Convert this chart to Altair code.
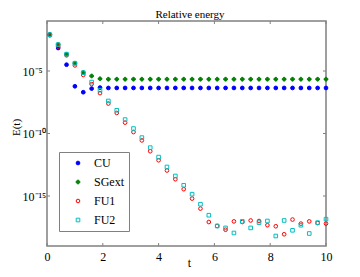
import altair as alt
import pandas as pd

t = [0.1, 0.4, 0.7, 1.0, 1.3, 1.6, 1.9, 2.2, 2.5, 2.8, 3.1, 3.4, 3.7, 4.0, 4.3, 4.6, 4.9,
     5.2, 5.5, 5.8, 6.1, 6.4, 6.7, 7.0, 7.3, 7.6, 7.9, 8.2, 8.5, 8.8, 9.1, 9.4, 9.7, 10.0]

cu = [8.1e-3, 6.9e-4, 3.2e-5, 6.0e-7, 2.0e-7, 3.9e-7, 4.7e-7] + [4.4e-7] * 27
sgext = [8.1e-3, 1.3e-3, 2.2e-4, 4.2e-5, 7.4e-6, 4.0e-6, 2.4e-6] + [2.2e-6] * 27
fu1 = [7.1e-3, 8.9e-4, 1.8e-4, 2.8e-5, 4.8e-6, 8.9e-7, 1.7e-7, 2.5e-8, 4.4e-9, 7.4e-10,
       1.3e-10, 2.8e-11, 3.8e-12, 7.2e-13, 1.1e-13, 2.2e-14, 3.5e-15, 6.2e-16, 9.8e-17,
       8.3e-18, 4.0e-18, 2.0e-18, 9.3e-18, 8.3e-18, 1.1e-17, 1.0e-17, 4.6e-18, 3.8e-18,
       8.7e-19, 1.3e-17, 6.2e-18, 9.3e-18, 6.9e-18, 6.2e-18]
fu2 = [8.1e-3, 1.3e-3, 2.2e-4, 4.2e-5, 7.4e-6, 1.3e-6, 2.9e-7, 4.0e-8, 7.2e-9, 1.3e-9,
       2.5e-10, 4.7e-11, 7.4e-12, 1.3e-12, 2.1e-13, 4.0e-14, 7.2e-15, 1.4e-15, 2.2e-16,
       2.9e-17, 4.0e-18, 2.8e-18, 1.1e-18, 9.3e-18, 2.8e-18, 7.4e-18, 1.0e-17, 6.3e-19,
       1.1e-17, 1.8e-18, 4.6e-18, 1.0e-18, 7.4e-18, 1.4e-17]

names = ["CU", "SGext", "FU1", "FU2"]
series = [cu, sgext, fu1, fu2]

xtick_vals = [0, 2, 4, 6, 8, 10]
ytick_vals = [1e-5, 1e-10, 1e-15]
ytick_labels = ["10\u207b\u2075", "10\u207b\u00b9\u2070", "10\u207b\u00b9\u2075"]

title_text = "Relative energy"
xlabel = "t"
ylabel = "E(t)"

rows = []
for n, vals in zip(names, series):
    for ti, v in zip(t, vals):
        rows.append({"t": ti, "E": v, "series": n})
df = pd.DataFrame(rows)

W, H = 279, 225
FONT = "Liberation Serif"
GRAY = "#808080"

xs = alt.Scale(domain=[0, 10], nice=False, zero=False)
ys = alt.Scale(type="log", domain=[1e-19, 1e-1], nice=False)

label_expr = " : ".join(
    f"datum.value == {v!r} ? '{l}'" for v, l in zip(ytick_vals, ytick_labels)
) + " : ''"

leg = alt.Legend(
    orient="none", legendX=12, legendY=131, title=None,
    strokeColor=GRAY, fillColor="white", padding=5, rowPadding=7,
    labelFont=FONT, labelFontSize=12, symbolOffset=8, labelOffset=10,
)

points = alt.Chart(df).mark_point(opacity=1).encode(
    x=alt.X("t:Q", scale=xs, axis=alt.Axis(
        values=xtick_vals, title=xlabel, ticks=False, domain=False, grid=False,
        labelPadding=5, labelFlush=False, titleBaseline="alphabetic",
        titleY=20, titleX=142)),
    y=alt.Y("E:Q", scale=ys, axis=alt.Axis(
        values=ytick_vals, labelExpr=label_expr, title=ylabel, ticks=False,
        domain=False, grid=False, labelAlign="left", labelPadding=25,
        labelBaseline="middle", titleX=-26, titleY=106, titleFontSize=11,
        labelFlush=False)),
    shape=alt.Shape("series:N", scale=alt.Scale(
        domain=names, range=["circle", "cross", "circle", "square"]), legend=leg),
    fill=alt.Fill("series:N", scale=alt.Scale(
        domain=names, range=["#0000ff", "#008000", "transparent", "transparent"]), legend=leg),
    stroke=alt.Stroke("series:N", scale=alt.Scale(
        domain=names, range=["#0000ff", "#008000", "#ff0000", "#00bfbf"]), legend=leg),
    size=alt.Size("series:N", scale=alt.Scale(
        domain=names, range=[14, 13, 19, 17]), legend=leg),
    strokeWidth=alt.StrokeWidth("series:N", scale=alt.Scale(
        domain=names, range=[1, 1, 2.2, 2]), legend=leg),
)

xt = pd.DataFrame({"t": xtick_vals})
yt = pd.DataFrame({"E": ytick_vals})

xt_bottom = alt.Chart(xt).mark_rule(color=GRAY, strokeWidth=1).encode(
    x=alt.X("t:Q", scale=xs, axis=None), y=alt.value(H - 3), y2=alt.value(H))
xt_top = alt.Chart(xt).mark_rule(color=GRAY, strokeWidth=1).encode(
    x=alt.X("t:Q", scale=xs, axis=alt.Axis(
        orient="top", labels=False, ticks=False, domain=False, grid=False,
        title=title_text, titleFont=FONT, titleFontSize=11, titleFontWeight="normal",
        titleBaseline="alphabetic", titleY=-4, titleX=W / 2 + 3, titleAlign="center")),
    y=alt.value(0), y2=alt.value(3))
yt_left = alt.Chart(yt).mark_rule(color=GRAY, strokeWidth=1).encode(
    y=alt.Y("E:Q", scale=ys, axis=None), x=alt.value(0), x2=alt.value(3))
yt_right = alt.Chart(yt).mark_rule(color=GRAY, strokeWidth=1).encode(
    y=alt.Y("E:Q", scale=ys, axis=None), x=alt.value(W - 3), x2=alt.value(W))

chart = alt.layer(xt_bottom, xt_top, yt_left, yt_right, points).resolve_axis(
    x="independent", y="independent"
).properties(
    width=W, height=H,
    autosize=alt.AutoSizeParams(type="none"),
    padding={"left": 39, "top": 13, "right": 26, "bottom": 23},
).configure_view(
    stroke=GRAY, strokeWidth=1.5
).configure_axis(
    labelFont=FONT, labelFontSize=12, titleFont=FONT, titleFontSize=12,
    titleFontWeight="normal", labelColor="black", titleColor="black",
)

chart.save("out.html", embed_options={"renderer": "svg", "actions": False})
